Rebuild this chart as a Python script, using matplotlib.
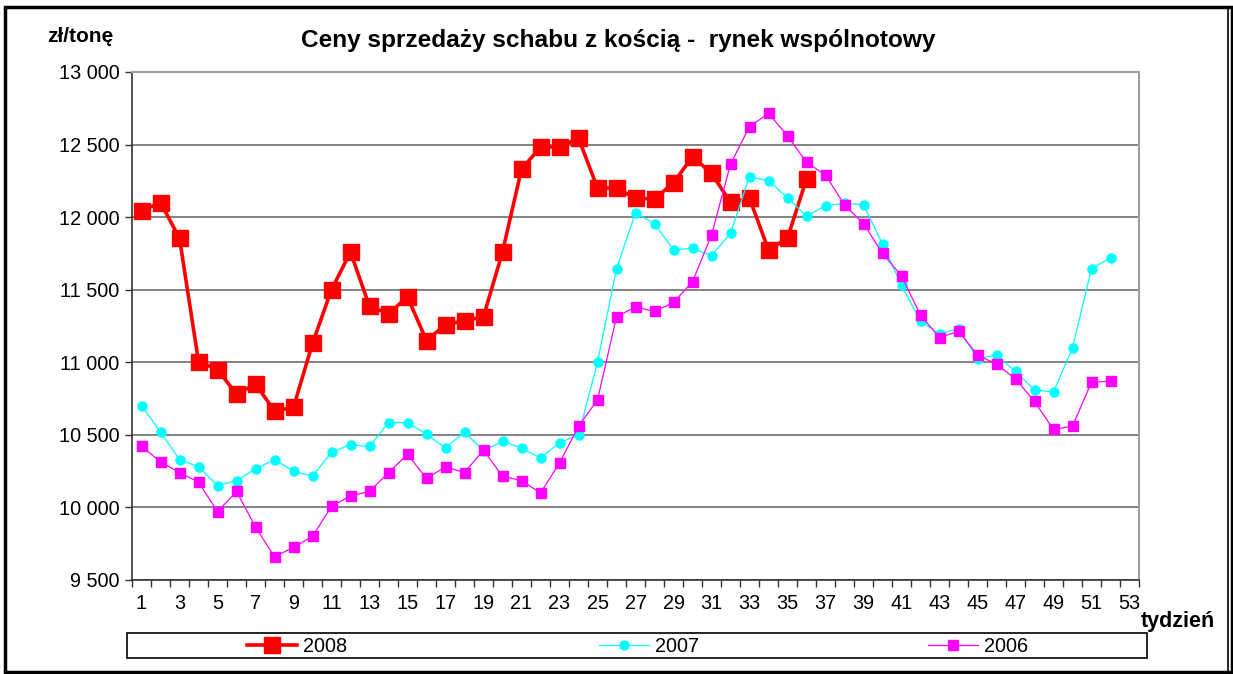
import numpy as np
import matplotlib
matplotlib.use('Agg')
import matplotlib.pyplot as plt
from matplotlib.patches import Rectangle
from matplotlib.lines import Line2D

plt.rcParams['font.family'] = ['Liberation Sans', 'DejaVu Sans']

# --- data (zl/tonne, per week) ---
weeks_2008 = list(range(1, 37))
price_2008 = [12045, 12100, 11855, 11005, 10950, 10780, 10850, 10665, 10690, 11130,
              11500, 11760, 11385, 11335, 11450, 11150, 11260, 11285, 11315, 11760,
              12330, 12483, 12483, 12545, 12200, 12200, 12130, 12125, 12237, 12417,
              12302, 12102, 12130, 11775, 11855, 12263]

weeks_2007 = list(range(1, 53))
price_2007 = [10700, 10520, 10330, 10280, 10150, 10185, 10265, 10330, 10250, 10215,
              10380, 10432, 10420, 10585, 10585, 10505, 10410, 10520, 10390, 10455,
              10410, 10340, 10445, 10500, 11000, 11645, 12030, 11955, 11775, 11785,
              11735, 11890, 12280, 12250, 12135, 12005, 12080, 12095, 12085, 11815,
              11530, 11285, 11195, 11232, 11025, 11050, 10937, 10810, 10795, 11100,
              11645, 11720]

weeks_2006 = list(range(1, 53))
price_2006 = [10420, 10315, 10240, 10175, 9970, 10110, 9865, 9660, 9725, 9800,
              10008, 10080, 10110, 10240, 10365, 10200, 10280, 10240, 10395, 10215,
              10185, 10100, 10305, 10560, 10740, 11313, 11382, 11350, 11412, 11555,
              11876, 12365, 12623, 12715, 12560, 12378, 12290, 12085, 11955, 11750,
              11595, 11325, 11170, 11215, 11050, 10987, 10886, 10730, 10537, 10560,
              10862, 10870]

series_labels = ['2008', '2007', '2006']
yticks = [9500, 10000, 10500, 11000, 11500, 12000, 12500, 13000]
ytick_labels = ['9 500', '10 000', '10 500', '11 000', '11 500', '12 000', '12 500', '13 000']
xtick_labels = list(range(1, 54, 2))

W, H = 1233, 674
fig = plt.figure(figsize=(W / 100, H / 100), dpi=100)
ax = fig.add_axes([132 / W, 1 - 580 / H, (1139 - 132) / W, (580 - 72) / H])

l08, = ax.plot(weeks_2008, price_2008, color='#ff0000', lw=2.6, marker='s', ms=12,
               mec='#ff0000', mfc='#ff0000', label=series_labels[0], zorder=3)
l07, = ax.plot(weeks_2007, price_2007, color='#00ffff', lw=0.9, marker='o', ms=6.5,
               mec='#00ffff', mfc='#00ffff', label=series_labels[1], zorder=4)
l06, = ax.plot(weeks_2006, price_2006, color='#ff00ff', lw=0.9, marker='s', ms=6.5,
               mec='#ff00ff', mfc='#ff00ff', label=series_labels[2], zorder=5)

ax.set_xlim(0.5, 53.5)
ax.set_ylim(9500, 13000)
ax.set_yticks(yticks)
ax.set_yticklabels(ytick_labels, fontsize=14.3)
ax.set_xticks(xtick_labels)
ax.set_xticklabels([str(v) for v in xtick_labels], fontsize=14.3)
ax.set_xticks(np.arange(0.5, 54, 1), minor=True)
ax.tick_params(axis='x', which='major', length=0, pad=10)
ax.tick_params(axis='x', which='minor', length=5, width=1, color='#333333', direction='out')
ax.tick_params(axis='y', length=5, width=1, color='#333333', direction='out', pad=4)

ax.grid(axis='y', color='#6e6e6e', lw=1.2)
ax.set_axisbelow(True)
for side in ['top', 'right']:
    ax.spines[side].set_color('#a0a0a0')
    ax.spines[side].set_linewidth(1.5)
for side in ['left', 'bottom']:
    ax.spines[side].set_color('#333333')
    ax.spines[side].set_linewidth(1.2)

fig.text(618 / W, 1 - 40 / H, 'Ceny sprzedaży schabu z kością -  rynek wspólnotowy',
         ha='center', va='center', fontsize=17.6, fontweight='bold')
fig.text(47 / W, 1 - 36 / H, 'zł/tonę', ha='left', va='center', fontsize=15, fontweight='bold')
fig.text(1141 / W, 1 - 622 / H, 'tydzień', ha='left', va='center', fontsize=15.5, fontweight='bold')

# legend box
fig.patches.append(Rectangle((127 / W, 1 - 658 / H), (1147 - 127) / W, 25 / H,
                             transform=fig.transFigure, fill=False, ec='black', lw=1.2))
# one entry per legend, placed where the reference puts them
for line, lab, x0 in zip([l08, l07, l06], series_labels, [247, 599, 928]):
    fig.legend([line], [lab], loc='center left', bbox_to_anchor=(x0 / W, 1 - 646 / H),
               frameon=False, fontsize=14.3, handlelength=2.5, handletextpad=0.3,
               borderpad=0, borderaxespad=0, numpoints=1)

# outer frame
fig.patches.append(Rectangle((5 / W, 1 - 672 / H), 1227 / W, 665 / H,
                             transform=fig.transFigure, fill=False, ec='black', lw=2.5))
fig.lines.append(Line2D([1228 / W, 1228 / W], [1 - 672 / H, 1 - 7 / H],
                        transform=fig.transFigure, color='black', lw=1.2))

plt.savefig('out.png', dpi=100)
